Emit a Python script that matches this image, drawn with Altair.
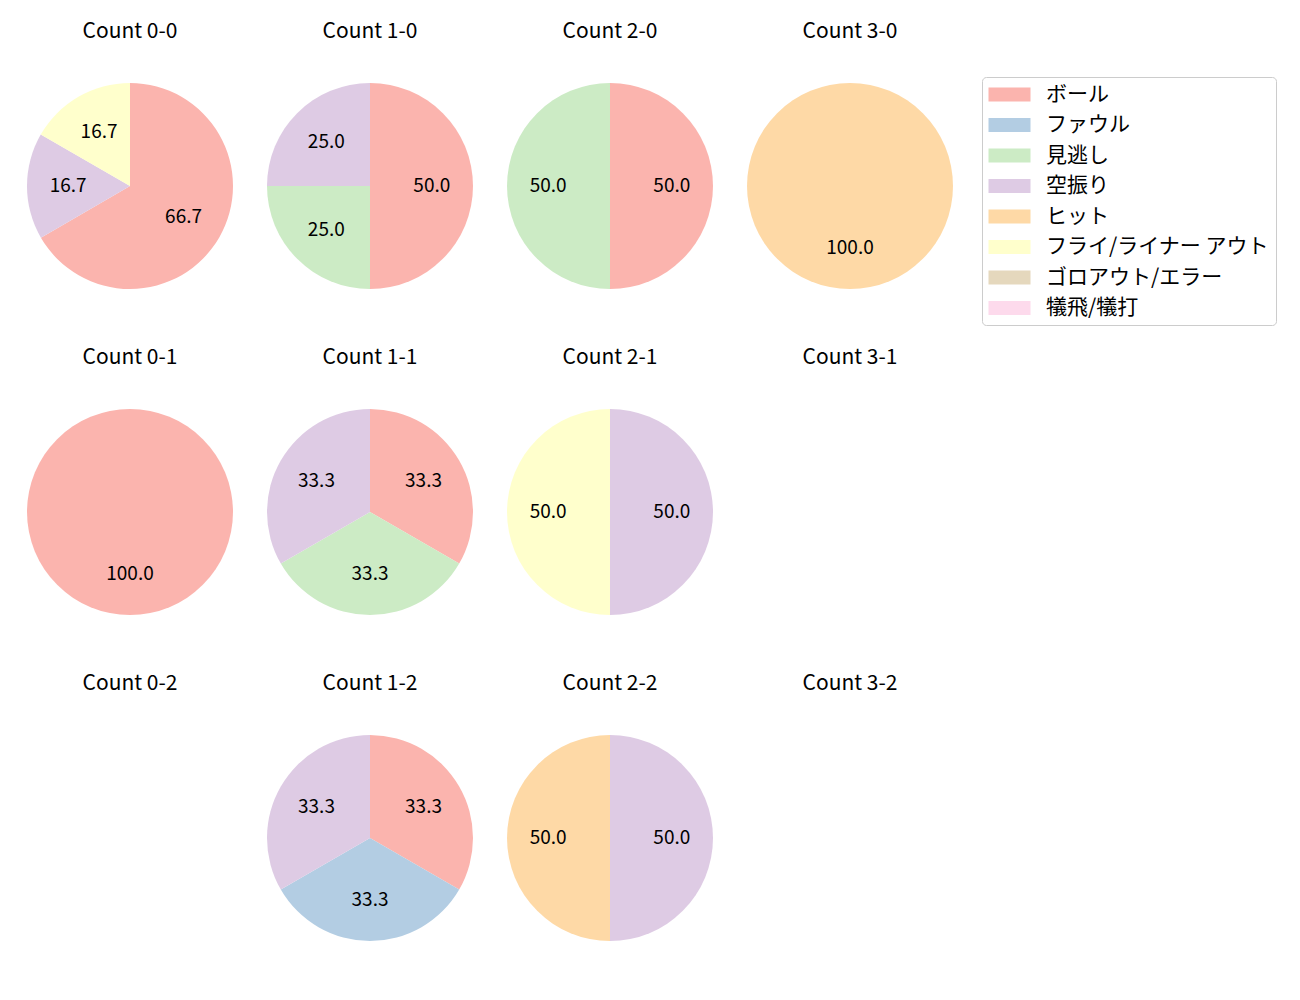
import altair as alt
import pandas as pd

categories = ["ボール", "ファウル", "見逃し", "空振り", "ヒット", "フライ/ライナー アウト", "ゴロアウト/エラー", "犠飛/犠打"]
colors = ["#fbb4ae", "#b3cde3", "#ccebc5", "#decbe4", "#fed9a6", "#ffffcc", "#e5d8bd", "#fddaec"]

counts = ["0-0", "1-0", "2-0", "3-0", "0-1", "1-1", "2-1", "3-1", "0-2", "1-2", "2-2", "3-2"]

# per count: (category, percent)
values = {
    "0-0": [("ボール", 66.7), ("空振り", 16.7), ("フライ/ライナー アウト", 16.7)],
    "1-0": [("ボール", 50.0), ("見逃し", 25.0), ("空振り", 25.0)],
    "2-0": [("ボール", 50.0), ("見逃し", 50.0)],
    "3-0": [("ヒット", 100.0)],
    "0-1": [("ボール", 100.0)],
    "1-1": [("ボール", 33.3), ("見逃し", 33.3), ("空振り", 33.3)],
    "2-1": [("空振り", 50.0), ("フライ/ライナー アウト", 50.0)],
    "3-1": [],
    "0-2": [],
    "1-2": [("ボール", 33.3), ("ファウル", 33.3), ("空振り", 33.3)],
    "2-2": [("空振り", 50.0), ("ヒット", 50.0)],
    "3-2": [],
}

rows = []
for c in counts:
    for cat, v in values[c]:
        rows.append({"cnt": c, "category": cat, "value": v,
                     "idx": categories.index(cat), "label": f"{v:.1f}"})
df = pd.DataFrame(rows)

FONT = "Noto Sans CJK JP"
W = 206
R = 103


def panel(c):
    base = alt.Chart(df).transform_filter(alt.datum.cnt == c).encode(
        theta=alt.Theta("value:Q", stack=True),
        color=alt.Color("category:N",
                        scale=alt.Scale(domain=categories, range=colors),
                        legend=alt.Legend(title=None)),
        order=alt.Order("idx:Q"),
    )
    arc = base.mark_arc(outerRadius=R)
    txt = base.mark_text(radius=R * 0.6, fontSize=19, font=FONT, color="black").encode(
        text="label:N", color=alt.value("black"))
    return (arc + txt).properties(
        width=W, height=W,
        title=alt.TitleParams(f"Count {c}", fontSize=21, font=FONT, fontWeight="normal",
                              color="black", offset=41, anchor="middle"),
    )


grid_rows = []
for r in range(3):
    grid_rows.append(alt.hconcat(*[panel(counts[r * 4 + k]) for k in range(4)], spacing=34))

chart = alt.vconcat(*grid_rows, spacing=58).properties(
    padding={"left": 27, "top": 21, "right": 5, "bottom": 5}
).configure_view(stroke=None).configure_legend(
    orient="none", legendX=955, legendY=-6,
    symbolType="M-3,-1L3,-1L3,1L-3,1Z", symbolSize=196,
    symbolOffset=10,
    symbolStrokeWidth=0, symbolOpacity=1,
    labelFont=FONT, labelFontSize=21, labelColor="black", labelOffset=26,
    rowPadding=8.5, padding=7, strokeColor="#cccccc", fillColor="white",
    cornerRadius=4, labelLimit=400,
)

chart.save("out.html", embed_options={"renderer": "svg", "actions": False})
